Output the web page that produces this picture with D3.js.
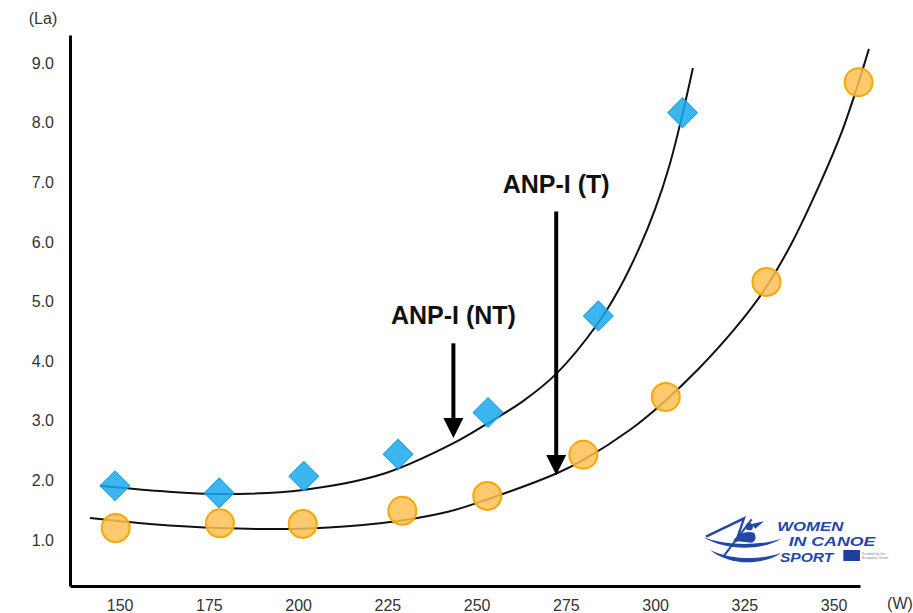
<!DOCTYPE html>
<html lang="en">

<head>
    <meta charset="UTF-8">
    <title>Lactate curve</title>
    <script src="https://d3js.org/d3.v7.min.js"></script>
    <style>
        body { margin: 0; background: #fff; }
        text { font-family: "Liberation Sans", Arial, sans-serif; }
    </style>
</head>

<body>
    <svg id="chart" width="913" height="613"></svg>

    <script>
        // tick labels
        const xTicks = [150, 175, 200, 225, 250, 275, 300, 325, 350];
        const yTicks = [1, 2, 3, 4, 5, 6, 7, 8, 9];

        // measured points (W, La)
        const blueW = [148.7, 177.9, 201.6, 228.0, 253.2, 284.1, 307.7];
        const blueLa = [1.91, 1.79, 2.07, 2.44, 3.14, 4.76, 8.17];
        const orangeW = [148.9, 178.1, 201.3, 229.2, 253.0, 279.9, 303.0, 331.2, 357.0];
        const orangeLa = [1.20, 1.28, 1.27, 1.49, 1.74, 2.43, 3.40, 5.33, 8.68];

        // trend curves
        const blueFitW = [144.5, 161.3, 178.2, 201.4, 224.4, 243.4, 252.9, 263.0, 272.5, 283.8, 290.0, 295.8, 300.0, 304.0, 307.5, 310.6];
        const blueFitLa = [1.91, 1.82, 1.77, 1.84, 2.12, 2.62, 2.95, 3.33, 3.80, 4.62, 5.22, 5.93, 6.55, 7.28, 8.10, 8.92];
        const orangeFitW = [141.7, 158.5, 178.2, 201.4, 223.0, 241.7, 252.9, 272.5, 279.8, 293.0, 302.2, 312.0, 322.4, 330.3, 338.0, 346.2, 352.0, 356.6, 359.9];
        const orangeFitLa = [1.37, 1.27, 1.20, 1.19, 1.28, 1.47, 1.68, 2.12, 2.34, 2.85, 3.30, 3.86, 4.55, 5.17, 5.95, 6.98, 7.80, 8.60, 9.24];

        // annotations: label, x, arrow top, arrow tip
        const arrowLabels = ["ANP-I (NT)", "ANP-I (T)"];
        const arrowW = [243.5, 272.3];
        const arrowTop = [4.30, 6.51];
        const arrowTip = [2.71, 2.09];

        const svg = d3.select("#chart");

        const x = d3.scaleLinear().domain([136.1, 357.4]).range([70, 860]);
        const y = d3.scaleLinear().domain([0.228, 9.473]).range([586, 35]);

        // axes
        const xAxis = svg.append("g")
            .attr("transform", `translate(0,586)`)
            .call(d3.axisBottom(x).tickValues(xTicks).tickSize(0).tickPadding(14).tickFormat(d3.format("d")));
        const yAxis = svg.append("g")
            .attr("transform", `translate(70,0)`)
            .call(d3.axisLeft(y).tickValues(yTicks).tickSize(0).tickPadding(16).tickFormat(d3.format(".1f")));

        [xAxis, yAxis].forEach(g => {
            g.select(".domain").attr("stroke", "#000").attr("stroke-width", 3);
            g.selectAll("text").attr("fill", "#333").style("font-size", "16px");
        });

        svg.append("text").attr("x", 43).attr("y", 24).attr("text-anchor", "middle")
            .attr("fill", "#333").style("font-size", "16px").text("(La)");
        svg.append("text").attr("x", 900).attr("y", 609).attr("text-anchor", "middle")
            .attr("fill", "#333").style("font-size", "16px").text("(W)");

        // trend curves
        const line = d3.line()
            .x(d => x(d[0]))
            .y(d => y(d[1]))
            .curve(d3.curveCatmullRom.alpha(0.5));

        [[blueFitW, blueFitLa], [orangeFitW, orangeFitLa]].forEach(([ws, las]) => {
            svg.append("path")
                .datum(d3.zip(ws, las))
                .attr("fill", "none")
                .attr("stroke", "#111")
                .attr("stroke-width", 2)
                .attr("d", line);
        });

        // arrows
        arrowLabels.forEach((lab, i) => {
            const ax = x(arrowW[i]);
            const tipY = y(arrowTip[i]);
            svg.append("line")
                .attr("x1", ax).attr("x2", ax)
                .attr("y1", y(arrowTop[i])).attr("y2", tipY - 14)
                .attr("stroke", "#000").attr("stroke-width", 4);
            svg.append("path")
                .attr("d", `M${ax - 10},${tipY - 20} L${ax + 10},${tipY - 20} L${ax},${tipY} Z`)
                .attr("fill", "#000");
            svg.append("text")
                .attr("x", ax).attr("y", y(arrowTop[i]) - 19)
                .attr("text-anchor", "middle")
                .attr("fill", "#111")
                .style("font-size", "25px").style("font-weight", "bold")
                .text(lab);
        });

        // markers
        svg.append("g").selectAll("path")
            .data(d3.zip(blueW, blueLa))
            .join("path")
            .attr("d", d3.symbol(d3.symbolSquare, 441))
            .attr("transform", d => `translate(${x(d[0])},${y(d[1])}) rotate(45)`)
            .attr("fill", "#1aa9ef")
            .attr("fill-opacity", 0.85)
            .attr("stroke", "#1aa0e6")
            .attr("stroke-width", 1);

        svg.append("g").selectAll("circle")
            .data(d3.zip(orangeW, orangeLa))
            .join("circle")
            .attr("cx", d => x(d[0]))
            .attr("cy", d => y(d[1]))
            .attr("r", 14)
            .attr("fill", "#fcbf55")
            .attr("fill-opacity", 0.85)
            .attr("stroke", "#f6a800")
            .attr("stroke-width", 2);

        // logo (drawn in a 3x local space)
        const blue = "#2347a6";
        const logo = svg.append("g").attr("transform", "translate(680,500) scale(0.3333)");
        logo.append("path")
            .attr("d", "M70,112 C140,138 235,138 305,116 C245,152 140,154 70,112 Z")
            .attr("fill", blue);
        logo.append("path")
            .attr("d", "M90,150 C160,182 245,180 305,158 C245,198 150,198 90,150 Z")
            .attr("fill", blue);
        logo.append("path")
            .attr("d", "M78,110 L192,55 L168,126")
            .attr("fill", "none").attr("stroke", blue).attr("stroke-width", 7);
        logo.append("path")
            .attr("d", "M160,122 C175,100 200,92 222,98 C230,110 228,122 215,128 Z")
            .attr("fill", blue);
        logo.append("line").attr("x1", 130).attr("y1", 170).attr("x2", 215).attr("y2", 58)
            .attr("stroke", blue).attr("stroke-width", 6);
        logo.append("circle").attr("cx", 208).attr("cy", 80).attr("r", 11).attr("fill", blue);
        logo.append("path").attr("d", "M214,72 L252,64 L226,86 Z").attr("fill", blue);

        const logoText = [["WOMEN", 292, 92, 198], ["IN CANOE", 326, 139, 260], ["SPORT", 300, 186, 160]];
        logo.selectAll("text.logo")
            .data(logoText)
            .join("text")
            .attr("x", d => d[1]).attr("y", d => d[2])
            .attr("textLength", d => d[3])
            .attr("lengthAdjust", "spacingAndGlyphs")
            .attr("fill", blue)
            .style("font-size", "39px").style("font-weight", "bold").style("font-style", "italic")
            .text(d => d[0]);
        logo.append("rect").attr("x", 490).attr("y", 150).attr("width", 50).attr("height", 33).attr("fill", "#1f3f9a");
        logo.append("text").attr("x", 546).attr("y", 164).attr("fill", "#888").style("font-size", "11px").text("Funded by the");
        logo.append("text").attr("x", 546).attr("y", 177).attr("fill", "#888").style("font-size", "11px").text("European Union");
    </script>
</body>

</html>
